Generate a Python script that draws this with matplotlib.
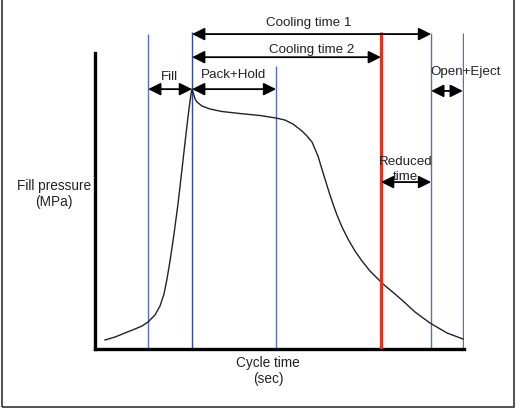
import matplotlib
matplotlib.use('Agg')
import matplotlib.pyplot as plt
from matplotlib.patches import Rectangle

plt.rcParams['font.family'] = ['Liberation Sans', 'DejaVu Sans']

# pressure curve over one moulding cycle (arbitrary units)
curve_t = [2.71, 5.42, 8.13, 10.84, 12.74, 14.36, 16.26, 17.62, 18.70, 19.51, 20.33, 21.41,
           22.49, 23.58, 24.66, 25.47, 26.02, 26.29, 27.10, 27.64, 29.00, 31.17, 34.42,
           39.30, 44.72, 49.05, 51.49, 53.66, 56.10, 57.45, 58.81, 59.62, 60.43, 61.25,
           62.33, 63.41, 64.50, 65.58, 66.94, 68.56, 70.46, 72.36, 74.53, 78.05, 81.30,
           83.47, 86.72, 90.79, 95.39, 99.73]
curve_p = [3.04, 4.05, 5.41, 6.76, 7.77, 9.12, 11.49, 14.53, 18.58, 23.65, 29.73, 38.85,
           48.99, 60.81, 72.64, 81.08, 86.15, 87.84, 84.50, 83.45, 82.09, 81.08, 80.24,
           79.56, 78.89, 78.04, 77.36, 76.01, 73.65, 71.96, 69.93, 67.57, 65.20, 61.82,
           57.43, 53.04, 48.99, 45.27, 41.22, 37.16, 33.11, 29.73, 26.35, 21.96, 18.58,
           16.22, 12.50, 8.78, 5.41, 3.38]

# phase boundaries
fill_start = 14.4
fill_end = 26.3
hold_end = 49.1
reduced_end = 77.5
cool_end = 91.1
eject_end = 99.7


def arrow(ax, x0, x1, y):
    ax.annotate('', xy=(x1, y), xytext=(x0, y),
                arrowprops=dict(arrowstyle='<|-|>,head_length=0.5,head_width=0.25',
                                color='black', lw=1.3, mutation_scale=15,
                                shrinkA=0, shrinkB=0),
                annotation_clip=False)


def main():
    fig = plt.figure(figsize=(5.2, 4.1), dpi=100)
    fig.patches.append(Rectangle((1.5 / 520, 2 / 410), 512.5 / 520, 1.2,
                                 transform=fig.transFigure, fill=False,
                                 edgecolor='#222222', lw=1.1))

    ax = fig.add_axes([95 / 520, 60 / 410, 369 / 520, 330 / 410])
    ax.set_xlim(0, 100)
    ax.set_ylim(0, 111.5)
    for s in ['top', 'right']:
        ax.spines[s].set_visible(False)
    ax.spines['left'].set_bounds(0, 100)
    ax.spines['left'].set_linewidth(2.4)
    ax.spines['bottom'].set_linewidth(2.4)
    ax.set_xticks([])
    ax.set_yticks([])
    ax.patch.set_alpha(0)

    blue = '#5670bf'
    ax.vlines(fill_start, 0, 106.4, color=blue, lw=1.0)
    ax.vlines(fill_end, 0, 107.1, color='#2f48a3', lw=1.0)
    ax.vlines(hold_end, 0, 95.6, color=blue, lw=1.0)
    ax.vlines(cool_end, 0, 106.8, color=blue, lw=1.0)
    ax.vlines(eject_end, 0, 106.8, color=blue, lw=1.0)
    ax.vlines(reduced_end, 0, 107.1, color='#e8301c', lw=2.3, zorder=3)

    ax.plot(curve_t, curve_p, color='#222222', lw=1.0)

    arrow(ax, fill_end, cool_end, 106.4)
    arrow(ax, fill_end, reduced_end, 98.6)
    arrow(ax, fill_start, fill_end, 87.8)
    arrow(ax, fill_end, hold_end, 87.8)
    arrow(ax, cool_end, eject_end, 87.2)
    arrow(ax, reduced_end, cool_end, 56.4)

    kw = dict(ha='center', va='center', fontsize=9.6, color='#222222', clip_on=False)
    ax.text(57.8, 110.4, 'Cooling time 1', **kw)
    ax.text(58.6, 101.2, 'Cooling time 2', **kw)
    ax.text(20.3, 92.2, 'Fill', **kw)
    ax.text(37.5, 92.9, 'Pack+Hold', **kw)
    ax.text(100.5, 93.9, 'Open+Eject', **kw)
    ax.text(84.3, 63.5, 'Reduced', **kw)
    ax.text(84.0, 58.4, 'time', **kw)

    fig.text(54 / 520, 1 - 194 / 410, 'Fill pressure\n(MPa)', ha='center', va='center',
             fontsize=9.8, color='#222222', linespacing=1.15)
    fig.text(268 / 520, 1 - 371 / 410, 'Cycle time\n(sec)', ha='center', va='center',
             fontsize=9.8, color='#222222', linespacing=1.15)

    fig.savefig('out.png', dpi=100)


if __name__ == '__main__':
    main()
